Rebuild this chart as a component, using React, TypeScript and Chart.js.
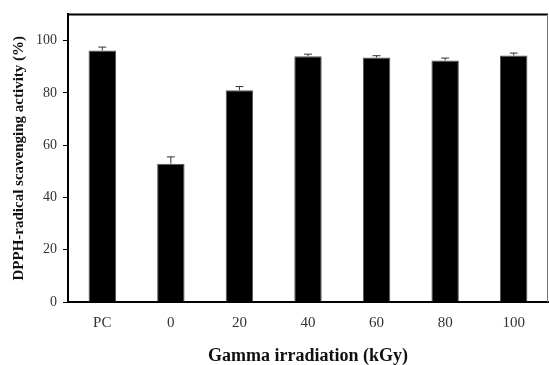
import React, { useEffect, useRef } from "react";
import { Chart, registerables } from "chart.js";

Chart.register(...registerables);

const categories = ["PC", "0", "20", "40", "60", "80", "100"];
const activity = [96.2, 52.9, 81.0, 94.0, 93.5, 92.4, 94.3];
const errors = [1.3, 2.6, 1.4, 0.8, 0.7, 0.9, 0.9];

const errorBarPlugin = {
  id: "errorBars",
  afterDatasetsDraw(chart: any) {
    const { ctx } = chart;
    const meta = chart.getDatasetMeta(0);
    const yScale = chart.scales.y;
    ctx.save();
    ctx.strokeStyle = "#333";
    ctx.lineWidth = 1;
    meta.data.forEach((bar: any, i: number) => {
      const v = activity[i];
      const e = errors[i];
      const x = bar.x;
      const y0 = yScale.getPixelForValue(v);
      const y1 = yScale.getPixelForValue(v + e);
      ctx.beginPath();
      ctx.moveTo(x, y0);
      ctx.lineTo(x, y1);
      ctx.moveTo(x - 4, y1);
      ctx.lineTo(x + 4, y1);
      ctx.stroke();
    });
    ctx.restore();
  },
};

const framePlugin = {
  id: "frame",
  afterDraw(chart: any) {
    const { ctx, chartArea } = chart;
    ctx.save();
    ctx.strokeStyle = "#000";
    ctx.lineWidth = 2;
    ctx.beginPath();
    ctx.moveTo(chartArea.left, chartArea.top);
    ctx.lineTo(chartArea.right, chartArea.top);
    ctx.stroke();
    ctx.strokeStyle = "#777";
    ctx.lineWidth = 1;
    ctx.beginPath();
    ctx.moveTo(chartArea.right - 0.5, chartArea.top);
    ctx.lineTo(chartArea.right - 0.5, chartArea.bottom);
    ctx.stroke();
    ctx.restore();
  },
};

export default function App() {
  const ref = useRef<HTMLCanvasElement>(null);
  useEffect(() => {
    document.body.style.margin = "0";
    const chart = new Chart(ref.current!, {
      type: "bar",
      data: {
        labels: categories,
        datasets: [
          {
            data: activity,
            backgroundColor: "#000",
            borderColor: "#555",
            borderWidth: 1,
            barPercentage: 0.4,
            categoryPercentage: 1,
          },
        ],
      },
      options: {
        animation: false,
        responsive: false,
        maintainAspectRatio: false,
        layout: { padding: { top: 12, right: 1, left: 0, bottom: 0 } },
        plugins: {
          legend: { display: false },
          tooltip: { enabled: false },
        },
        scales: {
          x: {
            grid: { display: false },
            border: { display: true, color: "#000", width: 2 },
            ticks: {
              color: "#333",
              font: { family: "Liberation Serif", size: 15 },
              padding: 4,
            },
            title: {
              display: true,
              text: "Gamma irradiation (kGy)",
              color: "#111",
              font: { family: "Liberation Serif", size: 18, weight: "bold" },
              padding: { top: 10, bottom: -2 },
            },
            afterFit(scale: any) {
              scale.height = 63;
            },
          },
          y: {
            min: 0,
            max: 110,
            ticks: {
              stepSize: 20,
              color: "#333",
              font: { family: "Liberation Serif", size: 14 },
              padding: 6,
            },
            grid: {
              drawOnChartArea: false,
              drawTicks: true,
              tickLength: 5,
              color: "#000",
            },
            border: { display: true, color: "#000", width: 2 },
            title: {
              display: true,
              text: "DPPH-radical scavenging activity (%)",
              color: "#111",
              font: { family: "Liberation Serif", size: 15, weight: "bold" },
              padding: { top: 10, bottom: 4 },
            },
            afterBuildTicks(scale: any) {
              scale.ticks = scale.ticks.filter((t: any) => t.value <= 100);
            },
            afterFit(scale: any) {
              scale.width = 68;
            },
          },
        },
      },
      plugins: [errorBarPlugin, framePlugin],
    });
    return () => chart.destroy();
  }, []);
  return (
    <div style={{ width: 549, height: 365 }}>
      <canvas ref={ref} width={549} height={365} style={{ display: "block" }} />
    </div>
  );
}
